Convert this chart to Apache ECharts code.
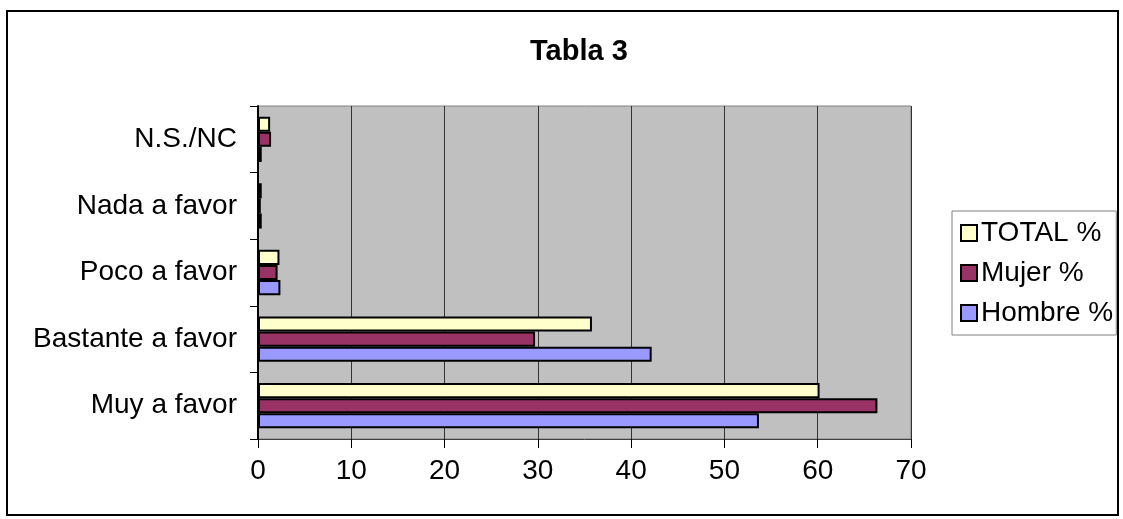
<!DOCTYPE html>
<html>
<head>
<meta charset="utf-8">
<script src="https://cdn.jsdelivr.net/npm/echarts@6/dist/echarts.min.js"></script>
<style>
  html, body { margin: 0; padding: 0; background: #fff; }
  #chart { width: 1123px; height: 519px; }
</style>
</head>
<body>
<div id="chart"></div>
<script>
// Answer categories, bottom to top
const categories = ['Muy a favor', 'Bastante a favor', 'Poco a favor', 'Nada a favor', 'N.S./NC'];

// Percentages per group
const totalPct  = [60.2, 35.8, 2.3, 0.4, 1.3];
const mujerPct  = [66.4, 29.7, 2.1, 0.3, 1.4];
const hombrePct = [53.7, 42.2, 2.4, 0.4, 0.4];

const seriesNames = ['TOTAL %', 'Mujer %', 'Hombre %'];
const xTicks = { min: 0, max: 70, interval: 10 };

const FONT = 'Liberation Sans, Arial, sans-serif';

const chart = echarts.init(document.getElementById('chart'), null, { renderer: 'canvas' });

function barSeries(name, data, color) {
  return {
    name: name,
    type: 'bar',
    data: data,
    barGap: '0%',
    barCategoryGap: '32%',
    itemStyle: { color: color, borderColor: '#000', borderWidth: 2 },
    emphasis: { disabled: true }
  };
}

chart.setOption({
  animation: false,
  backgroundColor: '#fff',
  title: {
    text: 'Tabla 3',
    left: 525,
    top: 32,
    textStyle: { fontFamily: FONT, fontSize: 29, fontWeight: 'bold', color: '#000' }
  },
  graphic: [{
    type: 'rect',
    shape: { x: 7, y: 11, width: 1111, height: 504 },
    style: { fill: 'none', stroke: '#000', lineWidth: 2 },
    silent: true
  }],
  legend: {
    orient: 'vertical',
    left: 952,
    top: 211,
    data: seriesNames,
    icon: 'rect',
    itemWidth: 16,
    itemHeight: 16,
    itemGap: 12,
    padding: [8, 3, 8, 8],
    backgroundColor: '#fff',
    borderColor: '#808080',
    borderWidth: 1,
    borderRadius: 0,
    textStyle: { fontFamily: FONT, fontSize: 28, color: '#000', padding: [0, 0, 0, -1] }
  },
  grid: {
    left: 258,
    right: 212,
    top: 106,
    bottom: 80,
    show: true,
    backgroundColor: '#C0C0C0',
    borderColor: '#808080',
    borderWidth: 1
  },
  xAxis: {
    type: 'value',
    min: xTicks.min,
    max: xTicks.max,
    interval: xTicks.interval,
    axisLine: { show: true, lineStyle: { color: '#404040', width: 1 } },
    axisTick: { show: true, inside: false, length: 9, lineStyle: { color: '#000' } },
    axisLabel: { fontFamily: FONT, fontSize: 28, color: '#000', margin: 18 },
    splitLine: { show: true, lineStyle: { color: '#333', width: 1 } }
  },
  yAxis: {
    type: 'category',
    data: categories,
    axisLine: { show: true, lineStyle: { color: '#000', width: 2 } },
    axisTick: { show: true, length: 8, lineStyle: { color: '#000' } },
    axisLabel: { fontFamily: FONT, fontSize: 28, color: '#000', margin: 21 },
    splitLine: { show: false }
  },
  series: [
    barSeries('TOTAL %', totalPct, '#FFFFCC'),
    barSeries('Mujer %', mujerPct, '#993366'),
    barSeries('Hombre %', hombrePct, '#9999FF')
  ]
});
</script>
</body>
</html>
